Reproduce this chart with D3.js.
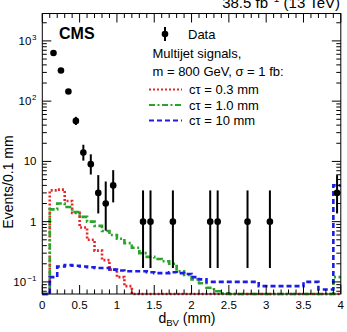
<!DOCTYPE html>
<html><head><meta charset="utf-8">
<script src="https://cdn.jsdelivr.net/npm/d3@7"></script>
<style>body{margin:0;background:#fff}svg{display:block;font-family:"Liberation Sans",Arial,Helvetica,sans-serif}</style>
</head><body>
<svg id="c" width="347" height="332"></svg>
<script>
// ---- data ----
const binEdgesStep = 0.1;
const binStarts = d3.range(0, 4, 0.1).map(v => +v.toFixed(2));
const dataX = [0.15,0.25,0.35,0.45,0.55,0.65,0.75,0.85,0.95,1.35,1.45,1.75,2.25,2.35,2.75,3.05,3.95];
const dataY = [630,323,145,47,14,9,3,2,4,1,1,1,1,1,1,1,3];
const dataLo = [605,305,133,40.2,10.3,6.06,1.37,0.71,2.09,0.17,0.17,0.17,0.17,0.17,0.17,0.17,1.37];
const dataHi = [656,341,157,54.9,18.9,13.1,5.92,4.64,7.16,3.30,3.30,3.30,3.30,3.30,3.30,3.30,5.92];
// signal histograms, 0.1 mm bins from 0 to 4
const sigRed = [0,3.3,3.4,2.2,1.4,0.8,0.5,0.33,0.23,0.16,0.12,0.085,0,0,0,0,0,0,0,0,0,0,0,0,0,0,0,0,0,0,0,0,0,0,0,0,0,0,0,0];
const sigGreen = [0,1.6,2.0,1.75,1.45,1.2,1.0,0.85,0.7,0.6,0.52,0.44,0.37,0.3,0.26,0.24,0.22,0.2,0.15,0.13,0.11,0.095,0.08,0.07,0.065,0,0,0,0,0,0,0,0,0,0,0,0,0,0,0.12];
const sigBlue = [0,0.12,0.18,0.19,0.185,0.18,0.175,0.17,0.17,0.16,0.155,0.15,0.15,0.15,0.145,0.14,0.14,0.145,0.14,0.135,0.12,0.11,0.1,0.1,0.1,0.1,0.1,0.1,0.1,0.085,0.085,0.085,0.085,0.085,0.085,0.1,0.1,0.075,0.075,4.0];
const xTickLabels = ["0","0.5","1","1.5","2","2.5","3","3.5","4"];
const legendSignals = ["cτ = 0.3 mm","cτ = 1.0 mm","cτ = 10 mm"];

// ---- layout ----
const svg = d3.select("#c");
const L = 42.3, R = 340.8, T = 13.5, B = 294;
const x = d3.scaleLinear().domain([0,4]).range([L,R]);
const y = d3.scaleLog().domain([0.063,2850]).range([B,T]);
const ymin = y.domain()[0];

const styles = [
  {data: sigRed, color:"#e8262a", dash:"2,2"},
  {data: sigGreen, color:"#2aa52a", dash:"6,2.5,2,2.5"},
  {data: sigBlue, color:"#1c1ce6", dash:"5,3"}
];

// histograms
styles.forEach(s => {
  const pts = [];
  s.data.forEach((v,i) => {
    const vv = Math.max(v, ymin);
    pts.push([x(binStarts[i]), y(vv)]);
    pts.push([x(binStarts[i]+binEdgesStep), y(vv)]);
  });
  svg.append("path").attr("d", d3.line()(pts)).attr("fill","none")
    .attr("stroke", s.color).attr("stroke-width",2.6).attr("stroke-dasharray", s.dash);
});

// data points
const g = svg.append("g");
dataX.forEach((dx,i) => {
  g.append("line").attr("x1",x(dx)).attr("x2",x(dx)).attr("y1",y(dataLo[i])).attr("y2",y(dataHi[i]))
    .attr("stroke","#000").attr("stroke-width",2);
  g.append("circle").attr("cx",x(dx)).attr("cy",y(dataY[i])).attr("r",3.3).attr("fill","#000");
});

// frame
svg.append("rect").attr("x",L).attr("y",T).attr("width",R-L).attr("height",B-T)
  .attr("fill","none").attr("stroke","#000").attr("stroke-width",1);

// x ticks
const xMinor = d3.range(0, 4.0001, 0.1);
xMinor.forEach(v => {
  const major = Math.abs(v*2 - Math.round(v*2)) < 1e-6;
  const len = major ? 9 : 4.5;
  const px = x(v);
  svg.append("line").attr("x1",px).attr("x2",px).attr("y1",B).attr("y2",B-len).attr("stroke","#000");
  svg.append("line").attr("x1",px).attr("x2",px).attr("y1",T).attr("y2",T+len).attr("stroke","#000");
});
xTickLabels.forEach(lab => {
  svg.append("text").attr("x", x(+lab)).attr("y", 308.5).attr("text-anchor","middle")
    .attr("font-size","11.5px").text(lab);
});

// y ticks
for (let e = -2; e <= 3; e++) {
  for (let m = 1; m <= 9; m++) {
    const v = m * Math.pow(10,e);
    if (v < ymin || v > y.domain()[1]) continue;
    const len = m === 1 ? 9 : 4.5;
    const py = y(v);
    svg.append("line").attr("x1",L).attr("x2",L+len).attr("y1",py).attr("y2",py).attr("stroke","#000");
    svg.append("line").attr("x1",R).attr("x2",R-len).attr("y1",py).attr("y2",py).attr("stroke","#000");
  }
}
const yLabs = [{v:0.1, base:"10", sup:"−1"},{v:1, base:"1", sup:""},{v:10, base:"10", sup:""},{v:100, base:"10", sup:"2"},{v:1000, base:"10", sup:"3"}];
yLabs.forEach(d => {
  svg.append("text").attr("x", d.sup ? 36.5 - d.sup.length*5.2 : 36.5).attr("y", y(d.v)+4)
    .attr("text-anchor","end").attr("font-size","11.5px").text(d.base);
  if (d.sup) {
    svg.append("text").attr("x", 36.5).attr("y", y(d.v)-1).attr("text-anchor","end")
      .attr("font-size","8px").text(d.sup);
  }
});

// axis titles
const xt = svg.append("text").attr("x",187).attr("y",323).attr("text-anchor","middle").attr("font-size","14px");
xt.append("tspan").text("d");
xt.append("tspan").attr("font-size","9.5px").attr("dy",3).text("BV");
xt.append("tspan").attr("dy",-3).text(" (mm)");
svg.append("text").attr("transform","translate(13,182) rotate(-90)").attr("text-anchor","middle")
  .attr("font-size","14px").text("Events/0.1 mm");

// top label
const tl = svg.append("text").attr("x",340).attr("y",8).attr("text-anchor","end").attr("font-size","15px");
tl.append("tspan").text("38.5 fb");
tl.append("tspan").attr("font-size","10px").attr("dy",-6).text("−1");
tl.append("tspan").attr("dy",6).text(" (13 TeV)");

svg.append("text").attr("x",59).attr("y",39).attr("font-size","16px").attr("font-weight","bold").text("CMS");

// legend
svg.append("line").attr("x1",165).attr("x2",165).attr("y1",27).attr("y2",41).attr("stroke","#000").attr("stroke-width",2);
svg.append("circle").attr("cx",165).attr("cy",34).attr("r",3.3).attr("fill","#000");
svg.append("text").attr("x",188).attr("y",38.5).attr("font-size","13px").text("Data");
svg.append("text").attr("x",152.5).attr("y",58).attr("font-size","13px").text("Multijet signals,");
svg.append("text").attr("x",152.5).attr("y",76).attr("font-size","13px").text("m = 800 GeV, σ = 1 fb:");
const ly = [89.5,105,120.5];
styles.forEach((s,i) => {
  svg.append("line").attr("x1",149).attr("x2",182).attr("y1",ly[i]).attr("y2",ly[i])
    .attr("stroke",s.color).attr("stroke-width",2.2).attr("stroke-dasharray",s.dash);
  svg.append("text").attr("x",189).attr("y",ly[i]+4.5).attr("font-size","13px").text(legendSignals[i]);
});
</script>
</body></html>
